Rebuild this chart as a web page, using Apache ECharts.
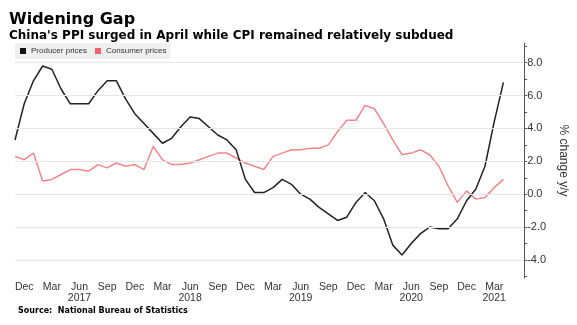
<!DOCTYPE html>
<html>
<head>
<meta charset="utf-8">
<script src="https://cdn.jsdelivr.net/npm/echarts@6/dist/echarts.min.js"></script>
<style>html,body{margin:0;padding:0;background:#fff;}#c{width:577px;height:325px;}</style>
</head>
<body>
<div id="c"></div>
<script>
// Months Nov 2016 .. Apr 2021
const months = [];
for (let y = 2016, m = 11; !(y === 2021 && m === 5); ) {
  months.push(y + '-' + String(m).padStart(2, '0'));
  m++; if (m > 12) { m = 1; y++; }
}
const ppi = [3.3, 5.5, 6.9, 7.8, 7.6, 6.4, 5.5, 5.5, 5.5, 6.3, 6.9, 6.9, 5.8, 4.9,
  4.3, 3.7, 3.1, 3.4, 4.1, 4.7, 4.6, 4.1, 3.6, 3.3, 2.7, 0.9,
  0.1, 0.1, 0.4, 0.9, 0.6, 0.0, -0.3, -0.8, -1.2, -1.6, -1.4, -0.5,
  0.1, -0.4, -1.5, -3.1, -3.7, -3.0, -2.4, -2.0, -2.1, -2.1, -1.5, -0.4,
  0.3, 1.7, 4.4, 6.8];
const cpi = [2.3, 2.1, 2.5, 0.8, 0.9, 1.2, 1.5, 1.5, 1.4, 1.8, 1.6, 1.9, 1.7, 1.8,
  1.5, 2.9, 2.1, 1.8, 1.8, 1.9, 2.1, 2.3, 2.5, 2.5, 2.2, 1.9,
  1.7, 1.5, 2.3, 2.5, 2.7, 2.7, 2.8, 2.8, 3.0, 3.8, 4.5, 4.5,
  5.4, 5.2, 4.3, 3.3, 2.4, 2.5, 2.7, 2.4, 1.7, 0.5, -0.5, 0.2,
  -0.3, -0.2, 0.4, 0.9];
const xTickIndex = [1, 4, 7, 10, 13, 16, 19, 22, 25, 28, 31, 34, 37, 40, 43, 46, 49, 52];
const xTickLabels = ['Dec', 'Mar', 'Jun\n2017', 'Sep', 'Dec', 'Mar', 'Jun\n2018', 'Sep', 'Dec',
  'Mar', 'Jun\n2019', 'Sep', 'Dec', 'Mar', 'Jun\n2020', 'Sep', 'Dec', 'Mar\n2021'];
const yLabelValues = [-4, -2, 0, 2, 4, 6, 8];
const yTickValues = [-5, -4, -3, -2, -1, 0, 1, 2, 3, 4, 5, 6, 7, 8, 9];
const seriesNames = ['Producer prices', 'Consumer prices'];

const chart = echarts.init(document.getElementById('c'), null, {renderer: 'canvas'});
const pairs = arr => arr.map((v, i) => [i, v]);
chart.setOption({
  animation: false,
  backgroundColor: '#fff',
  title: [
    {text: 'Widening Gap', left: 4, top: 7,
     textStyle: {fontFamily: 'DejaVu Sans', fontWeight: 'bold', fontSize: 16, color: '#000', lineHeight: 16}},
    {text: "China's PPI surged in April while CPI remained relatively subdued", left: 4, top: 25,
     textStyle: {fontFamily: 'DejaVu Sans', fontWeight: 'bold', fontSize: 12, color: '#000', lineHeight: 12}}
  ],
  legend: {
    left: 15, top: 43, padding: [4, 4, 4, 5], itemGap: 8,
    backgroundColor: '#efefef',
    itemWidth: 6, itemHeight: 6, icon: 'rect',
    textStyle: {fontFamily: 'Liberation Sans', fontSize: 8, color: '#333'},
    data: seriesNames
  },
  grid: {left: 15, right: 46, top: 43, bottom: 47, containLabel: false},
  xAxis: {
    type: 'value', min: 0, max: 55.25,
    axisLine: {show: false}, axisTick: {show: false}, splitLine: {show: false},
    axisLabel: {
      customValues: xTickIndex,
      formatter: v => xTickLabels[xTickIndex.indexOf(Math.round(v))] || '',
      fontFamily: 'Liberation Sans', fontSize: 10.5, lineHeight: 11.5,
      color: '#333', margin: 3
    }
  },
  yAxis: {
    type: 'value', position: 'right', min: -5.1, max: 9.2,
    name: '% change y/y', nameLocation: 'middle', nameRotate: -90, nameGap: 31,
    nameTextStyle: {fontFamily: 'Liberation Sans', fontSize: 12, color: '#333'},
    axisLine: {show: true, onZero: false, lineStyle: {color: '#555', width: 1}},
    axisTick: {show: true, inside: false, length: 3, customValues: yTickValues, lineStyle: {color: '#555'}},
    splitLine: {show: false},
    axisLabel: {
      customValues: yLabelValues,
      formatter: v => v.toFixed(1),
      fontFamily: 'Liberation Sans', fontSize: 11, color: '#333', margin: 3
    }
  },
  series: [
    {type: 'line', name: '_grid', data: [], z: 0, silent: true,
     markLine: {silent: true, symbol: 'none', label: {show: false}, animation: false,
       lineStyle: {color: '#e6e6e6', type: 'solid', width: 1},
       data: yLabelValues.map(v => ({yAxis: v}))}},
    {type: 'line', name: seriesNames[0], data: pairs(ppi), symbol: 'none', z: 3,
     lineStyle: {color: '#222', width: 1.5}, itemStyle: {color: '#111'}},
    {type: 'line', name: seriesNames[1], data: pairs(cpi), symbol: 'none', z: 2,
     lineStyle: {color: '#f0878b', width: 1.5}, itemStyle: {color: '#f06470'}}
  ],
  graphic: [
    {type: 'text', left: 18, top: 307,
     style: {text: 'Source:  National Bureau of Statistics', fontFamily: 'DejaVu Sans', fontWeight: 'bold', fontSize: 8, fill: '#000'}}
  ]
});
</script>
</body>
</html>
